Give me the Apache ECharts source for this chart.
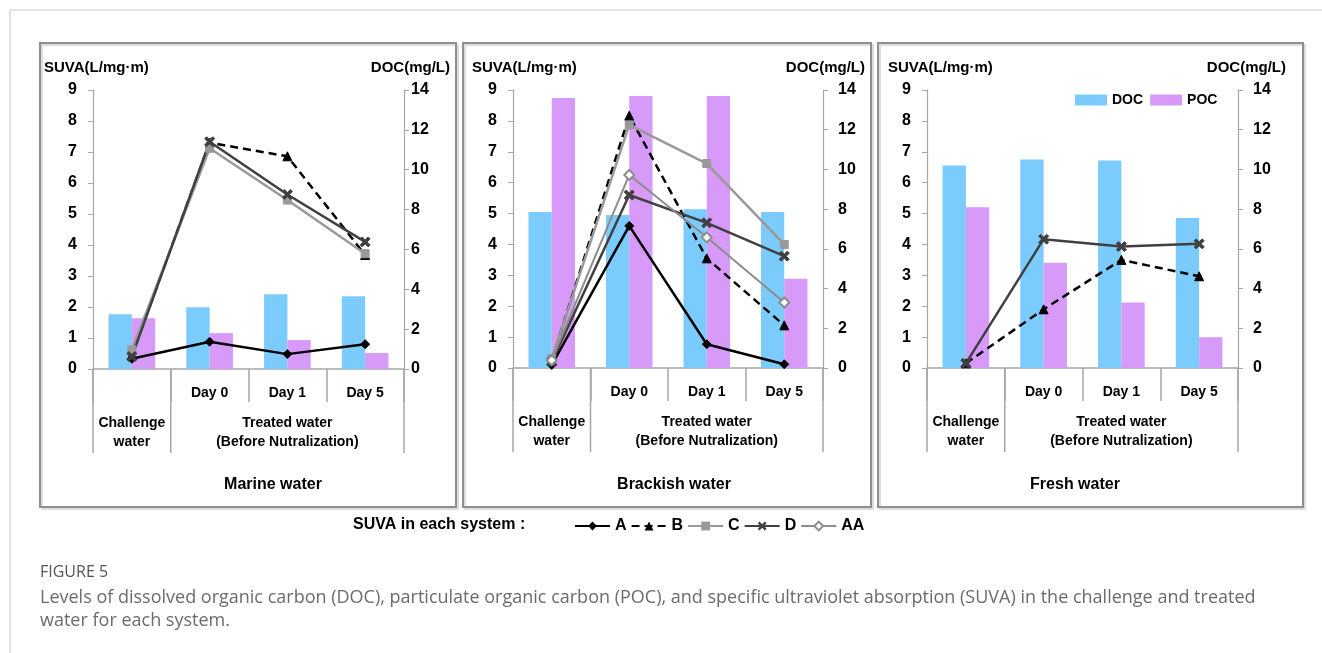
<!DOCTYPE html>
<html>
<head>
<meta charset="utf-8">
<script src="https://cdn.jsdelivr.net/npm/echarts@6/dist/echarts.min.js"></script>
<style>
html,body{margin:0;padding:0;background:#fff;}
#chart{width:1322px;height:653px;}
</style>
</head>
<body>
<div id="chart"></div>
<script>
// ---------- data ----------
const categories = ['Challenge water', 'Day 0', 'Day 1', 'Day 5'];
const leftTicks = [0, 9, 1];   // SUVA axis min, max, interval
const rightTicks = [0, 14, 2]; // DOC axis min, max, interval

const marineDOC = [2.75, 3.1, 3.75, 3.65];
const marinePOC = [2.55, 1.8, 1.45, 0.8];
const marineA = [0.33, 0.88, 0.48, 0.8];
const marineB = [0.45, 7.3, 6.86, 3.68];
const marineC = [0.62, 7.12, 5.45, 3.72];
const marineD = [0.4, 7.33, 5.63, 4.1];

const brackishDOC = [7.85, 7.7, 8.0, 7.85];
const brackishPOC = [13.6, 13.7, 13.7, 4.5];
const brackishA = [0.1, 4.6, 0.77, 0.12];
const brackishB = [0.25, 8.17, 3.55, 1.38];
const brackishC = [0.3, 7.87, 6.62, 4.0];
const brackishD = [0.2, 5.6, 4.7, 3.62];
const brackishAA = [0.25, 6.25, 4.23, 2.12];

const freshDOC = [10.2, 10.5, 10.45, 7.55];
const freshPOC = [8.1, 5.3, 3.3, 1.55];
const freshB = [0.15, 1.9, 3.5, 2.97];
const freshD = [0.15, 4.17, 3.93, 4.02];

const panelTitles = ['Marine water', 'Brackish water', 'Fresh water'];
const groupLabels = ['Challenge\nwater', 'Treated water\n(Before Nutralization)'];
const captionTitle = 'FIGURE 5';
const captionLines = [
  'Levels of dissolved organic carbon (DOC), particulate organic carbon (POC), and specific ultraviolet absorption (SUVA) in the challenge and treated',
  'water for each system.'
];

// ---------- layout / style ----------
const FONT = '"Liberation Sans", Arial, sans-serif';
const CAP_FONT = '"Open Sans", "Noto Sans", sans-serif';
const AXIS_COLOR = '#a6a6a6';
const DOC_COLOR = '#7CCBFD';
const POC_COLOR = '#D89AF9';
const X_PATH = 'path://M2,0 L5,3 L8,0 L10,2 L7,5 L10,8 L8,10 L5,7 L2,10 L0,8 L3,5 L0,2 Z';

const lineStyles = {
  A:  {color: '#000000', type: 'solid', symbol: 'diamond', size: 9, width: 2.5},
  B:  {color: '#000000', type: [8, 5], symbol: 'triangle', size: 9, width: 2.5},
  C:  {color: '#999999', type: 'solid', symbol: 'rect', size: 8, width: 2.5},
  D:  {color: '#404040', type: 'solid', symbol: X_PATH, size: 10, width: 2.5},
  AA: {color: '#8c8c8c', type: 'solid', symbol: 'emptyDiamond', size: 10, width: 2}
};

const panels = [
  {doc: marineDOC, poc: marinePOC, lines: {A: marineA, B: marineB, C: marineC, D: marineD},
   grid: {left: 93, top: 90, width: 311, height: 279}, rMargin: 7,
   frame: [40, 43, 416, 464], titleX: 273, nameL: 44, nameR: 450},
  {doc: brackishDOC, poc: brackishPOC, lines: {A: brackishA, B: brackishB, C: brackishC, D: brackishD, AA: brackishAA},
   grid: {left: 513, top: 90, width: 310, height: 278}, rMargin: 15,
   frame: [463, 43, 408, 464], titleX: 674, nameL: 472, nameR: 865},
  {doc: freshDOC, poc: freshPOC, lines: {B: freshB, D: freshD},
   grid: {left: 927, top: 90, width: 311, height: 278}, rMargin: 15,
   frame: [878, 43, 425, 464], titleX: 1075, nameL: 888, nameR: 1286}
];

const chart = echarts.init(document.getElementById('chart'), null, {renderer: 'canvas'});

const grids = [], xAxes = [], yAxes = [], series = [];
panels.forEach((p, i) => {
  grids.push(Object.assign({containLabel: false}, p.grid));
  xAxes.push({
    type: 'category', gridIndex: i, data: categories,
    axisLine: {lineStyle: {color: AXIS_COLOR, width: 1.5}},
    axisTick: {show: true, interval: 0, length: 33, lineStyle: {color: AXIS_COLOR, width: 1.5}},
    axisLabel: {interval: 0, margin: 17, color: '#000', fontSize: 14, fontWeight: 'bold', fontFamily: FONT,
      formatter: (v, idx) => idx === 0 ? '' : v},
    splitLine: {show: false}
  });
  yAxes.push({
    type: 'value', gridIndex: i, position: 'left',
    min: leftTicks[0], max: leftTicks[1], interval: leftTicks[2],
    axisLine: {show: true, lineStyle: {color: AXIS_COLOR, width: 1.2}},
    axisTick: {show: true, length: 5, lineStyle: {color: AXIS_COLOR}},
    axisLabel: {margin: 16, color: '#000', fontSize: 16, fontWeight: 'bold', fontFamily: FONT},
    splitLine: {show: false}
  });
  yAxes.push({
    type: 'value', gridIndex: i, position: 'right',
    min: rightTicks[0], max: rightTicks[1], interval: rightTicks[2],
    axisLine: {show: true, lineStyle: {color: AXIS_COLOR, width: 1.2}},
    axisTick: {show: true, length: 5, lineStyle: {color: AXIS_COLOR}},
    axisLabel: {margin: p.rMargin, color: '#000', fontSize: 16, fontWeight: 'bold', fontFamily: FONT},
    splitLine: {show: false}
  });
  series.push({
    name: 'DOC', type: 'bar', xAxisIndex: i, yAxisIndex: 2 * i + 1, data: p.doc,
    barGap: '0%', barCategoryGap: '40%', itemStyle: {color: DOC_COLOR}, z: 1, silent: true
  });
  series.push({
    name: 'POC', type: 'bar', xAxisIndex: i, yAxisIndex: 2 * i + 1, data: p.poc,
    barGap: '0%', barCategoryGap: '40%', itemStyle: {color: POC_COLOR}, z: 1, silent: true
  });
  Object.keys(p.lines).forEach(k => {
    const s = lineStyles[k];
    series.push({
      name: k, type: 'line', xAxisIndex: i, yAxisIndex: 2 * i, data: p.lines[k],
      symbol: s.symbol, symbolSize: s.size, showAllSymbol: true,
      lineStyle: {color: s.color, width: s.width, type: s.type},
      itemStyle: {color: s.color, borderColor: s.color},
      z: 3, animation: false, silent: true
    });
  });
});

const baseGraphic = [
  {type: 'line', shape: {x1: 10, y1: 10, x2: 1322, y2: 10}, style: {stroke: '#d9d9d9', lineWidth: 1.5}, silent: true},
  {type: 'line', shape: {x1: 10, y1: 10, x2: 10, y2: 653}, style: {stroke: '#d9d9d9', lineWidth: 1.5}, silent: true},
  {type: 'text', x: 353, y: 525, style: {text: 'SUVA in each system :', font: 'bold 16px ' + FONT, fill: '#000', textVerticalAlign: 'middle'}},
  {type: 'text', x: 40, y: 572, style: {text: captionTitle, font: '16px ' + CAP_FONT, fill: '#555555', textVerticalAlign: 'middle'}},
  {type: 'text', x: 40, y: 598, style: {text: captionLines[0], font: '18px ' + CAP_FONT, fill: '#6b6b6b', textVerticalAlign: 'middle'}},
  {type: 'text', x: 40, y: 621, style: {text: captionLines[1], font: '18px ' + CAP_FONT, fill: '#6b6b6b', textVerticalAlign: 'middle'}}
];
panels.forEach((p, i) => {
  const [fx, fy, fw, fh] = p.frame;
  baseGraphic.push({type: 'rect', z: -10, shape: {x: fx + 2, y: fy + 2, width: fw, height: fh}, style: {fill: 'none', stroke: '#dddddd', lineWidth: 2}, silent: true});
  baseGraphic.push({type: 'rect', z: -9, shape: {x: fx, y: fy, width: fw, height: fh}, style: {fill: 'none', stroke: '#8f8f8f', lineWidth: 2}, silent: true});
  baseGraphic.push({type: 'text', x: p.nameL, y: 68, style: {text: 'SUVA(L/mg·m)', font: 'bold 15px ' + FONT, fill: '#000', textVerticalAlign: 'middle'}});
  baseGraphic.push({type: 'text', x: p.nameR, y: 68, style: {text: 'DOC(mg/L)', font: 'bold 15px ' + FONT, fill: '#000', textAlign: 'right', textVerticalAlign: 'middle'}});
  baseGraphic.push({type: 'text', x: p.titleX, y: 485, style: {text: panelTitles[i], font: 'bold 16px ' + FONT, fill: '#000', textAlign: 'center', textVerticalAlign: 'middle'}});
});

chart.setOption({
  animation: false,
  textStyle: {fontFamily: FONT},
  grid: grids, xAxis: xAxes, yAxis: yAxes, series: series,
  legend: [
    {data: ['DOC', 'POC'], left: 1075, top: 93, itemWidth: 32, itemHeight: 11, itemGap: 7, icon: 'rect',
     padding: 0, selectedMode: false, textStyle: {fontSize: 14, fontWeight: 'bold', color: '#000', fontFamily: FONT}},
    {data: ['A', 'B', 'C', 'D', 'AA'], left: 574, top: 518, itemWidth: 35, itemHeight: 11, itemGap: 4,
     padding: 0, selectedMode: false, textStyle: {fontSize: 16, fontWeight: 'bold', color: '#000', fontFamily: FONT}}
  ],
  graphic: baseGraphic
});

// separators and group labels placed from the axes' own pixel positions
const extra = [];
panels.forEach((p, i) => {
  const c = categories.map((_, k) => chart.convertToPixel({xAxisIndex: i}, k));
  const y0 = chart.convertToPixel({yAxisIndex: 2 * i + 1}, 0);
  const b = [c[0] - (c[1] - c[0]) / 2, (c[0] + c[1]) / 2, (c[1] + c[2]) / 2, (c[2] + c[3]) / 2, c[3] + (c[3] - c[2]) / 2];
  [0, 1, 4].forEach(k => {
    extra.push({type: 'line', shape: {x1: b[k], y1: y0, x2: b[k], y2: y0 + 84}, style: {stroke: AXIS_COLOR, lineWidth: 1.5}, silent: true});
  });
  extra.push({type: 'text', x: c[0], y: y0 + 64, style: {text: groupLabels[0], font: 'bold 14px ' + FONT, fill: '#000', textAlign: 'center', textVerticalAlign: 'middle', lineHeight: 19}});
  extra.push({type: 'text', x: (b[1] + b[4]) / 2, y: y0 + 64, style: {text: groupLabels[1], font: 'bold 14px ' + FONT, fill: '#000', textAlign: 'center', textVerticalAlign: 'middle', lineHeight: 19}});
});
chart.setOption({graphic: baseGraphic.concat(extra)});
</script>
</body>
</html>
